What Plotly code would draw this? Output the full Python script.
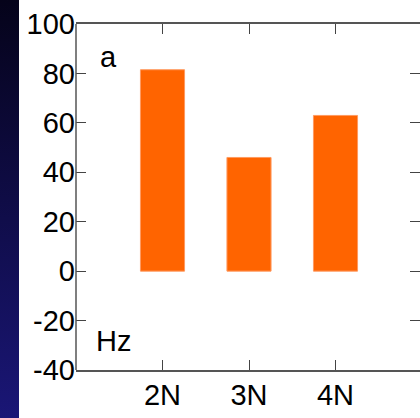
import base64
import plotly.graph_objects as go

categories = ["2N", "3N", "4N"]
positions = [2, 3, 4]
values = [81.5, 46, 63]
ytick_vals = [-40, -20, 0, 20, 40, 60, 80, 100]
ytick_text = ["-40", "-20", "0", "20", "40", "60", "80", "100"]

W, H = 420, 418
ml, mr, mt, mb = 76, 0, 24, 48
pw = W - ml - mr
ph = H - mt - mb

fig = go.Figure()
fig.add_trace(go.Bar(
    x=positions, y=values, width=0.51,
    marker=dict(color="#ff6400", line=dict(color="#ff9a60", width=1)),
))

# dark gradient strip at left edge (SVG image)
svg = ('<svg xmlns="http://www.w3.org/2000/svg" width="19" height="418" preserveAspectRatio="none">'
       '<defs><linearGradient id="g" x1="0" y1="0" x2="0" y2="1">'
       '<stop offset="0" stop-color="#05031a"/><stop offset="1" stop-color="#1a1676"/>'
       '</linearGradient></defs><rect width="19" height="418" fill="url(#g)"/></svg>')
src = "data:image/svg+xml;base64," + base64.b64encode(svg.encode()).decode()
fig.add_layout_image(source=src, xref="paper", yref="paper",
                     x=-ml / pw, y=1 + mt / ph, sizex=19 / pw, sizey=H / ph,
                     xanchor="left", yanchor="top", sizing="stretch", layer="below")

# left axis line (right side has ticks only)
fig.add_shape(type="line", xref="paper", yref="paper", x0=0, x1=0, y0=0, y1=1,
              line=dict(color="#555", width=1.5))

font = dict(family="Liberation Sans, Arial, sans-serif", size=29, color="black")

fig.add_annotation(text="a", xref="paper", yref="paper", x=(98 - ml) / pw, y=(H - mb - 57) / ph,
                   showarrow=False, xanchor="left", yanchor="middle", font=font)
fig.add_annotation(text="Hz", xref="paper", yref="paper", x=(94 - ml) / pw, y=(H - mb - 341) / ph,
                   showarrow=False, xanchor="left", yanchor="middle", font=font)

fig.update_layout(
    width=W, height=H,
    margin=dict(l=ml, r=mr, t=mt, b=mb),
    paper_bgcolor="white", plot_bgcolor="white",
    showlegend=False,
    font=font,
    xaxis=dict(range=[1, 1 + pw / 86.5], tickvals=positions, ticktext=categories,
               ticks="inside", ticklen=10, tickcolor="#444", tickwidth=1,
               showline=True, linecolor="#555", linewidth=1.5, mirror="ticks",
               showgrid=False, zeroline=False, ticklabelstandoff=-2),
    yaxis=dict(range=[-40, 100], tickvals=ytick_vals, ticktext=ytick_text,
               ticks="inside", ticklen=10, tickcolor="#444", tickwidth=1,
               showline=False, mirror="ticks",
               showgrid=False, zeroline=False, ticklabelstandoff=0),
)

fig.write_html("out.html")
